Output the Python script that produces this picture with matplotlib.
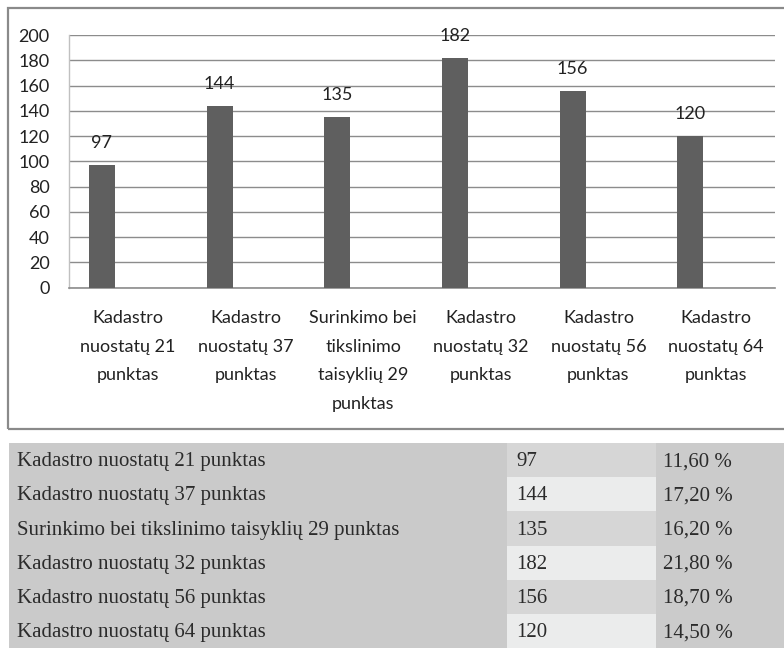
import matplotlib
matplotlib.use('Agg')
import matplotlib.pyplot as plt
from matplotlib.patches import Rectangle

# data
categories = ['Kadastro\nnuostatų 21\npunktas',
              'Kadastro\nnuostatų 37\npunktas',
              'Surinkimo bei\ntikslinimo\ntaisyklių 29\npunktas',
              'Kadastro\nnuostatų 32\npunktas',
              'Kadastro\nnuostatų 56\npunktas',
              'Kadastro\nnuostatų 64\npunktas']
counts = [97, 144, 135, 182, 156, 120]
row_names = ['Kadastro nuostatų 21 punktas',
             'Kadastro nuostatų 37 punktas',
             'Surinkimo bei tikslinimo taisyklių 29 punktas',
             'Kadastro nuostatų 32 punktas',
             'Kadastro nuostatų 56 punktas',
             'Kadastro nuostatų 64 punktas']
shares = ['11,60 %', '17,20 %', '16,20 %', '21,80 %', '18,70 %', '14,50 %']
y_ticks = list(range(0, 201, 20))

W, H = 784, 648
fig = plt.figure(figsize=(W / 100, H / 100), dpi=100)
sans = ['Lato', 'DejaVu Sans']
serif = ['Liberation Serif', 'DejaVu Serif']

def fx(px):
    return px / W

def fy(py):
    return 1 - py / H

# chart frame (runs off the right edge)
fig.add_artist(Rectangle((fx(8), fy(429)), fx(790 - 8), fy(8) - fy(429),
                         transform=fig.transFigure, fill=False,
                         edgecolor='#8a8a8a', lw=1.6))

# bar chart
ax = fig.add_axes([fx(69), fy(287.7), fx(775 - 69), fy(35) - fy(287.7)])
xs = list(range(len(counts)))
bars = ax.bar([x - 0.22 for x in xs], counts, width=0.22, color='#5f5f5f',
              zorder=3)
for b, v in zip(bars, counts):
    ax.annotate(str(v), (b.get_x() + b.get_width() / 2, v),
                xytext=(0, 10), textcoords='offset points',
                ha='center', va='bottom', fontsize=13, family=sans,
                color='#222222')
ax.set_xlim(-0.5, len(counts) - 0.5)
ax.set_ylim(0, 200)
ax.set_yticks(y_ticks)
ax.set_yticklabels([str(t) for t in y_ticks], family=sans, fontsize=13,
                   color='#222222')
ax.set_xticks(xs)
ax.set_xticklabels(categories, family=sans, fontsize=13, color='#222222',
                   linespacing=1.98, va='top')
ax.tick_params(axis='both', length=0)
ax.tick_params(axis='y', pad=14)
ax.tick_params(axis='x', pad=16)
ax.yaxis.grid(True, color='#8c8c8c', lw=1.0, zorder=0)
for s in ['top', 'right']:
    ax.spines[s].set_visible(False)
ax.spines['left'].set_color('#c0c0c0')
ax.spines['bottom'].set_color('#8c8c8c')
ax.spines['left'].set_linewidth(1.0)
ax.spines['bottom'].set_linewidth(1.2)

# table below the chart
tx = fig.add_axes([fx(9), 0, 1 - fx(9), fy(443)])
tx.set_xlim(9, 784)
tx.set_ylim(len(counts), 0)
tx.axis('off')
col_edges = [9, 507, 656, 784]
for i in range(len(counts)):
    tx.add_patch(Rectangle((col_edges[0], i), col_edges[1] - col_edges[0], 1,
                           color='#cacaca', lw=0))
    shade = '#d6d6d6' if i % 2 == 0 else '#ebecec'
    tx.add_patch(Rectangle((col_edges[1], i), col_edges[2] - col_edges[1], 1,
                           color=shade, lw=0))
    tx.add_patch(Rectangle((col_edges[2], i), col_edges[3] - col_edges[2], 1,
                           color='#cbcbcb', lw=0))
    yc = i + 0.55
    tx.text(17, yc, row_names[i], va='center', ha='left', fontsize=15,
            family=serif, color='#2b2b2b')
    tx.text(516, yc, str(counts[i]), va='center', ha='left', fontsize=15,
            family=serif, color='#2b2b2b')
    tx.text(663, yc, shares[i], va='center', ha='left', fontsize=15,
            family=serif, color='#2b2b2b')

fig.savefig('out.png', dpi=100)
